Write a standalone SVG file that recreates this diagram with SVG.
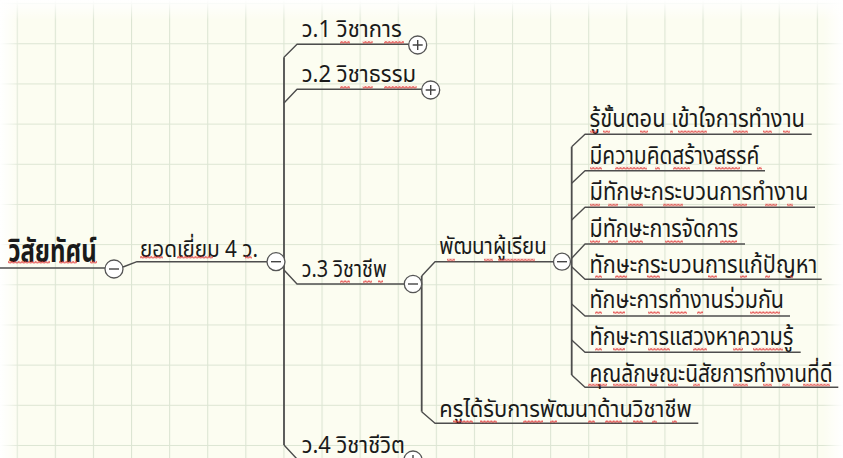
<svg xmlns="http://www.w3.org/2000/svg" width="843" height="458" viewBox="0 0 843 458">
<defs>
<pattern id="grid" x="16.7" y="3.1" width="38.1" height="40.17" patternUnits="userSpaceOnUse">
<path d="M0 0V40.17M0 0H38.1" fill="none" stroke="#dce5d3" stroke-width="2.2"/>
</pattern>
<pattern id="sq" x="0" y="0" width="3.4" height="3" patternUnits="userSpaceOnUse">
<path d="M0 2.4L1.7 0.6L3.4 2.4" fill="none" stroke="#e23a3a" stroke-width="0.9"/>
</pattern>
<linearGradient id="fadeTop" x1="0" y1="0" x2="0" y2="1">
<stop offset="0" stop-color="#fff" stop-opacity="1"/>
<stop offset="1" stop-color="#fff" stop-opacity="0"/>
</linearGradient>
<linearGradient id="fadeLeft" x1="0" y1="0" x2="1" y2="0">
<stop offset="0" stop-color="#fff" stop-opacity="1"/>
<stop offset="1" stop-color="#fff" stop-opacity="0"/>
</linearGradient>
<linearGradient id="fadeRight" x1="1" y1="0" x2="0" y2="0">
<stop offset="0" stop-color="#fff" stop-opacity="1"/>
<stop offset="1" stop-color="#fff" stop-opacity="0"/>
</linearGradient>
</defs>
<style>
.ln{fill:none;stroke:#4d4d4d;stroke-width:1.4;stroke-linejoin:round}
.tr{fill:none;stroke:#4d4d4d;stroke-width:1.8}
.cb{fill:#fff;stroke:#555;stroke-width:1.3}
.sg{fill:none;stroke:#444;stroke-width:1.4}
.t{font-family:"Noto Sans Thai","Tahoma","Leelawadee UI","DejaVu Sans",sans-serif;fill:#1a1a1a}
.b{font-size:23px}
.c{font-size:24px}
.r{font-size:31px;font-weight:bold}
.sq{fill:url(#sq)}
</style>
<rect width="843" height="458" fill="#fcfdf1"/>
<rect width="843" height="458" fill="url(#grid)"/>
<rect x="0" y="0" width="843" height="20" fill="url(#fadeTop)"/>
<rect x="0" y="0" width="20" height="458" fill="url(#fadeLeft)"/>
<rect x="823" y="0" width="20" height="458" fill="url(#fadeRight)"/>

<g id="connectors">
<path class="ln" d="M0 268H105"/>
<path class="ln" d="M123 267L137 261.7H267"/>
<path class="tr" d="M284 57.3V445"/>
<path class="ln" d="M284 57.3L297 44.3H409"/>
<path class="ln" d="M284 103L297 89.3H422"/>
<path class="ln" d="M284 270L297 284H404.5"/>
<path class="ln" d="M284 445L297 459H404"/>
<path class="tr" d="M421.7 276V411.7"/>
<path class="ln" d="M421.7 276L435 261.7H554"/>
<path class="ln" d="M421.7 411.7L435 423.3H698.3"/>
<path class="tr" d="M571.7 146.7V375"/>
<path class="ln" d="M571.7 146.7L585 134.3H811.7"/>
<path class="ln" d="M571.7 183.3L585 170.7H765"/>
<path class="ln" d="M571.7 220L585 207.3H815"/>
<path class="ln" d="M571.7 258.3L585 244H745"/>
<path class="ln" d="M571.7 266.7L585 279.3H821.7"/>
<path class="ln" d="M571.7 304L585 316H790"/>
<path class="ln" d="M571.7 340L585 352.3H800.7"/>
<path class="ln" d="M571.7 375L585 387.3H838.3"/>
</g>

<g id="root">
<text class="t r" x="8.3" y="262" textLength="88.4" lengthAdjust="spacingAndGlyphs">วิสัยทัศน์</text>
<g transform="translate(0,260.8)"><rect class="sq" x="8" width="42" height="3"/><rect class="sq" x="59" width="18" height="3"/><rect class="sq" x="90" width="7" height="3"/></g>
<circle class="cb" cx="114" cy="269" r="9"/><path class="sg" d="M109 269H119"/>
</g>

<g id="n-excellent">
<text class="t b" x="140" y="256.7" textLength="118" lengthAdjust="spacingAndGlyphs">ยอดเยี่ยม 4 ว.</text>
<g transform="translate(0,255.8)"><rect class="sq" x="140" width="23" height="3"/><rect class="sq" x="177" width="36" height="3"/><rect class="sq" x="245" width="7" height="3"/></g>
<circle class="cb" cx="276" cy="261.7" r="9"/><path class="sg" d="M271 261.7H281"/>
</g>

<g id="n-w1">
<text class="t b" x="301.7" y="37.3" textLength="100" lengthAdjust="spacingAndGlyphs">ว.1 วิชาการ</text>
<g transform="translate(0,40.8)"><rect class="sq" x="340" width="10" height="3"/><rect class="sq" x="362.7" width="10" height="3"/><rect class="sq" x="384" width="20" height="3"/></g>
<circle class="cb" cx="417.7" cy="45" r="9"/><path class="sg" d="M412.7 45H422.7M417.7 40V50"/>
</g>

<g id="n-w2">
<text class="t b" x="301.7" y="81.7" textLength="114.3" lengthAdjust="spacingAndGlyphs">ว.2 วิชาธรรม</text>
<g transform="translate(0,85.8)"><rect class="sq" x="340" width="10" height="3"/><rect class="sq" x="362.7" width="10" height="3"/><rect class="sq" x="384" width="32.7" height="3"/></g>
<circle class="cb" cx="430.7" cy="90" r="9"/><path class="sg" d="M425.7 90H435.7M430.7 85V95"/>
</g>

<g id="n-w3">
<text class="t b" x="301.7" y="276.7" textLength="85" lengthAdjust="spacingAndGlyphs">ว.3 วิชาชีพ</text>
<g transform="translate(0,280.2)"><rect class="sq" x="340" width="10" height="3"/><rect class="sq" x="363" width="9" height="3"/><rect class="sq" x="378" width="5" height="3"/></g>
<circle class="cb" cx="413" cy="284" r="8.7"/><path class="sg" d="M408 284H418"/>
</g>

<g id="n-w4">
<text class="t b" x="301.7" y="452.5" textLength="103.3" lengthAdjust="spacingAndGlyphs">ว.4 วิชาชีวิต</text>
<circle class="cb" cx="413" cy="460" r="9"/><path class="sg" d="M413 455V465"/>
</g>

<g id="n-learner">
<text class="t b" x="439.3" y="254" textLength="107.4" lengthAdjust="spacingAndGlyphs">พัฒนาผู้เรียน</text>
<g transform="translate(0,258.5)"><rect class="sq" x="447" width="8" height="3"/><rect class="sq" x="484" width="9" height="3"/><rect class="sq" x="498" width="37" height="3"/></g>
<circle class="cb" cx="562" cy="261.7" r="8.5"/><path class="sg" d="M557 261.7H567"/>
</g>

<g id="n-teacher">
<text class="t b" x="439.3" y="416.7" textLength="252.4" lengthAdjust="spacingAndGlyphs">ครูได้รับการพัฒนาด้านวิชาชีพ</text>
<g transform="translate(0,420.2)"><rect class="sq" x="453" width="20" height="3"/><rect class="sq" x="480" width="17" height="3"/><rect class="sq" x="523" width="20" height="3"/><rect class="sq" x="550" width="7" height="3"/><rect class="sq" x="588" width="7" height="3"/><rect class="sq" x="605" width="17" height="3"/><rect class="sq" x="633" width="10" height="3"/><rect class="sq" x="652" width="5" height="3"/><rect class="sq" x="672" width="5" height="3"/></g>
</g>

<g id="c1">
<text class="t c" x="589.5" y="127.3" textLength="215.5" lengthAdjust="spacingAndGlyphs">รู้ขั้นตอน เข้าใจการทำงาน</text>
<g transform="translate(0,130.3)"><rect class="sq" x="590" width="7" height="3"/><rect class="sq" x="603" width="7" height="3"/><rect class="sq" x="640" width="8" height="3"/><rect class="sq" x="670" width="3" height="3"/><rect class="sq" x="678" width="29" height="3"/><rect class="sq" x="733" width="15" height="3"/><rect class="sq" x="763" width="9" height="3"/><rect class="sq" x="783" width="7" height="3"/></g>
</g>
<g id="c2">
<text class="t c" x="589.5" y="164" textLength="169.8" lengthAdjust="spacingAndGlyphs">มีความคิดสร้างสรรค์</text>
<g transform="translate(0,166.8)"><rect class="sq" x="590" width="12" height="3"/><rect class="sq" x="615" width="32" height="3"/><rect class="sq" x="655" width="5" height="3"/><rect class="sq" x="673" width="17" height="3"/><rect class="sq" x="715" width="25" height="3"/><rect class="sq" x="757" width="5" height="3"/></g>
</g>
<g id="c3">
<text class="t c" x="589.5" y="200" textLength="218.8" lengthAdjust="spacingAndGlyphs">มีทักษะกระบวนการทำงาน</text>
<g transform="translate(0,203.5)"><rect class="sq" x="590" width="10" height="3"/><rect class="sq" x="608" width="10" height="3"/><rect class="sq" x="628" width="15" height="3"/><rect class="sq" x="663" width="20" height="3"/><rect class="sq" x="733" width="14" height="3"/><rect class="sq" x="765" width="12" height="3"/><rect class="sq" x="787" width="6" height="3"/></g>
</g>
<g id="c4">
<text class="t c" x="589.5" y="236.7" textLength="148.8" lengthAdjust="spacingAndGlyphs">มีทักษะการจัดการ</text>
<g transform="translate(0,240.2)"><rect class="sq" x="590" width="10" height="3"/><rect class="sq" x="608" width="10" height="3"/><rect class="sq" x="628" width="15" height="3"/><rect class="sq" x="665" width="18" height="3"/><rect class="sq" x="720" width="17" height="3"/></g>
</g>
<g id="c5">
<text class="t c" x="589.5" y="272.7" textLength="227.8" lengthAdjust="spacingAndGlyphs">ทักษะกระบวนการแก้ปัญหา</text>
<g transform="translate(0,275.2)"><rect class="sq" x="595" width="7" height="3"/><rect class="sq" x="615" width="12" height="3"/><rect class="sq" x="647" width="13" height="3"/><rect class="sq" x="708" width="9" height="3"/><rect class="sq" x="740" width="7" height="3"/><rect class="sq" x="765" width="5" height="3"/><rect class="sq" x="790" width="3" height="3"/></g>
</g>
<g id="c6">
<text class="t c" x="589.5" y="308.3" textLength="194.5" lengthAdjust="spacingAndGlyphs">ทักษะการทำงานร่วมกัน</text>
<g transform="translate(0,311.2)"><rect class="sq" x="595" width="7" height="3"/><rect class="sq" x="613" width="12" height="3"/><rect class="sq" x="648" width="12" height="3"/><rect class="sq" x="670" width="17" height="3"/><rect class="sq" x="697" width="6" height="3"/><rect class="sq" x="750" width="30" height="3"/></g>
</g>
<g id="c7">
<text class="t c" x="589.5" y="345" textLength="203.8" lengthAdjust="spacingAndGlyphs">ทักษะการแสวงหาความรู้</text>
<g transform="translate(0,347.8)"><rect class="sq" x="595" width="7" height="3"/><rect class="sq" x="613" width="12" height="3"/><rect class="sq" x="648" width="22" height="3"/><rect class="sq" x="693" width="14" height="3"/><rect class="sq" x="733" width="10" height="3"/><rect class="sq" x="753" width="30" height="3"/></g>
</g>
<g id="c8">
<text class="t c" x="589.5" y="381.7" textLength="243.2" lengthAdjust="spacingAndGlyphs">คุณลักษณะนิสัยการทำงานที่ดี</text>
<g transform="translate(0,383.5)"><rect class="sq" x="588" width="19" height="3"/><rect class="sq" x="613" width="24" height="3"/><rect class="sq" x="650" width="7" height="3"/><rect class="sq" x="668" width="10" height="3"/><rect class="sq" x="693" width="7" height="3"/><rect class="sq" x="733" width="15" height="3"/><rect class="sq" x="763" width="9" height="3"/><rect class="sq" x="782" width="8" height="3"/><rect class="sq" x="803" width="27" height="3"/></g>
</g>
</svg>
